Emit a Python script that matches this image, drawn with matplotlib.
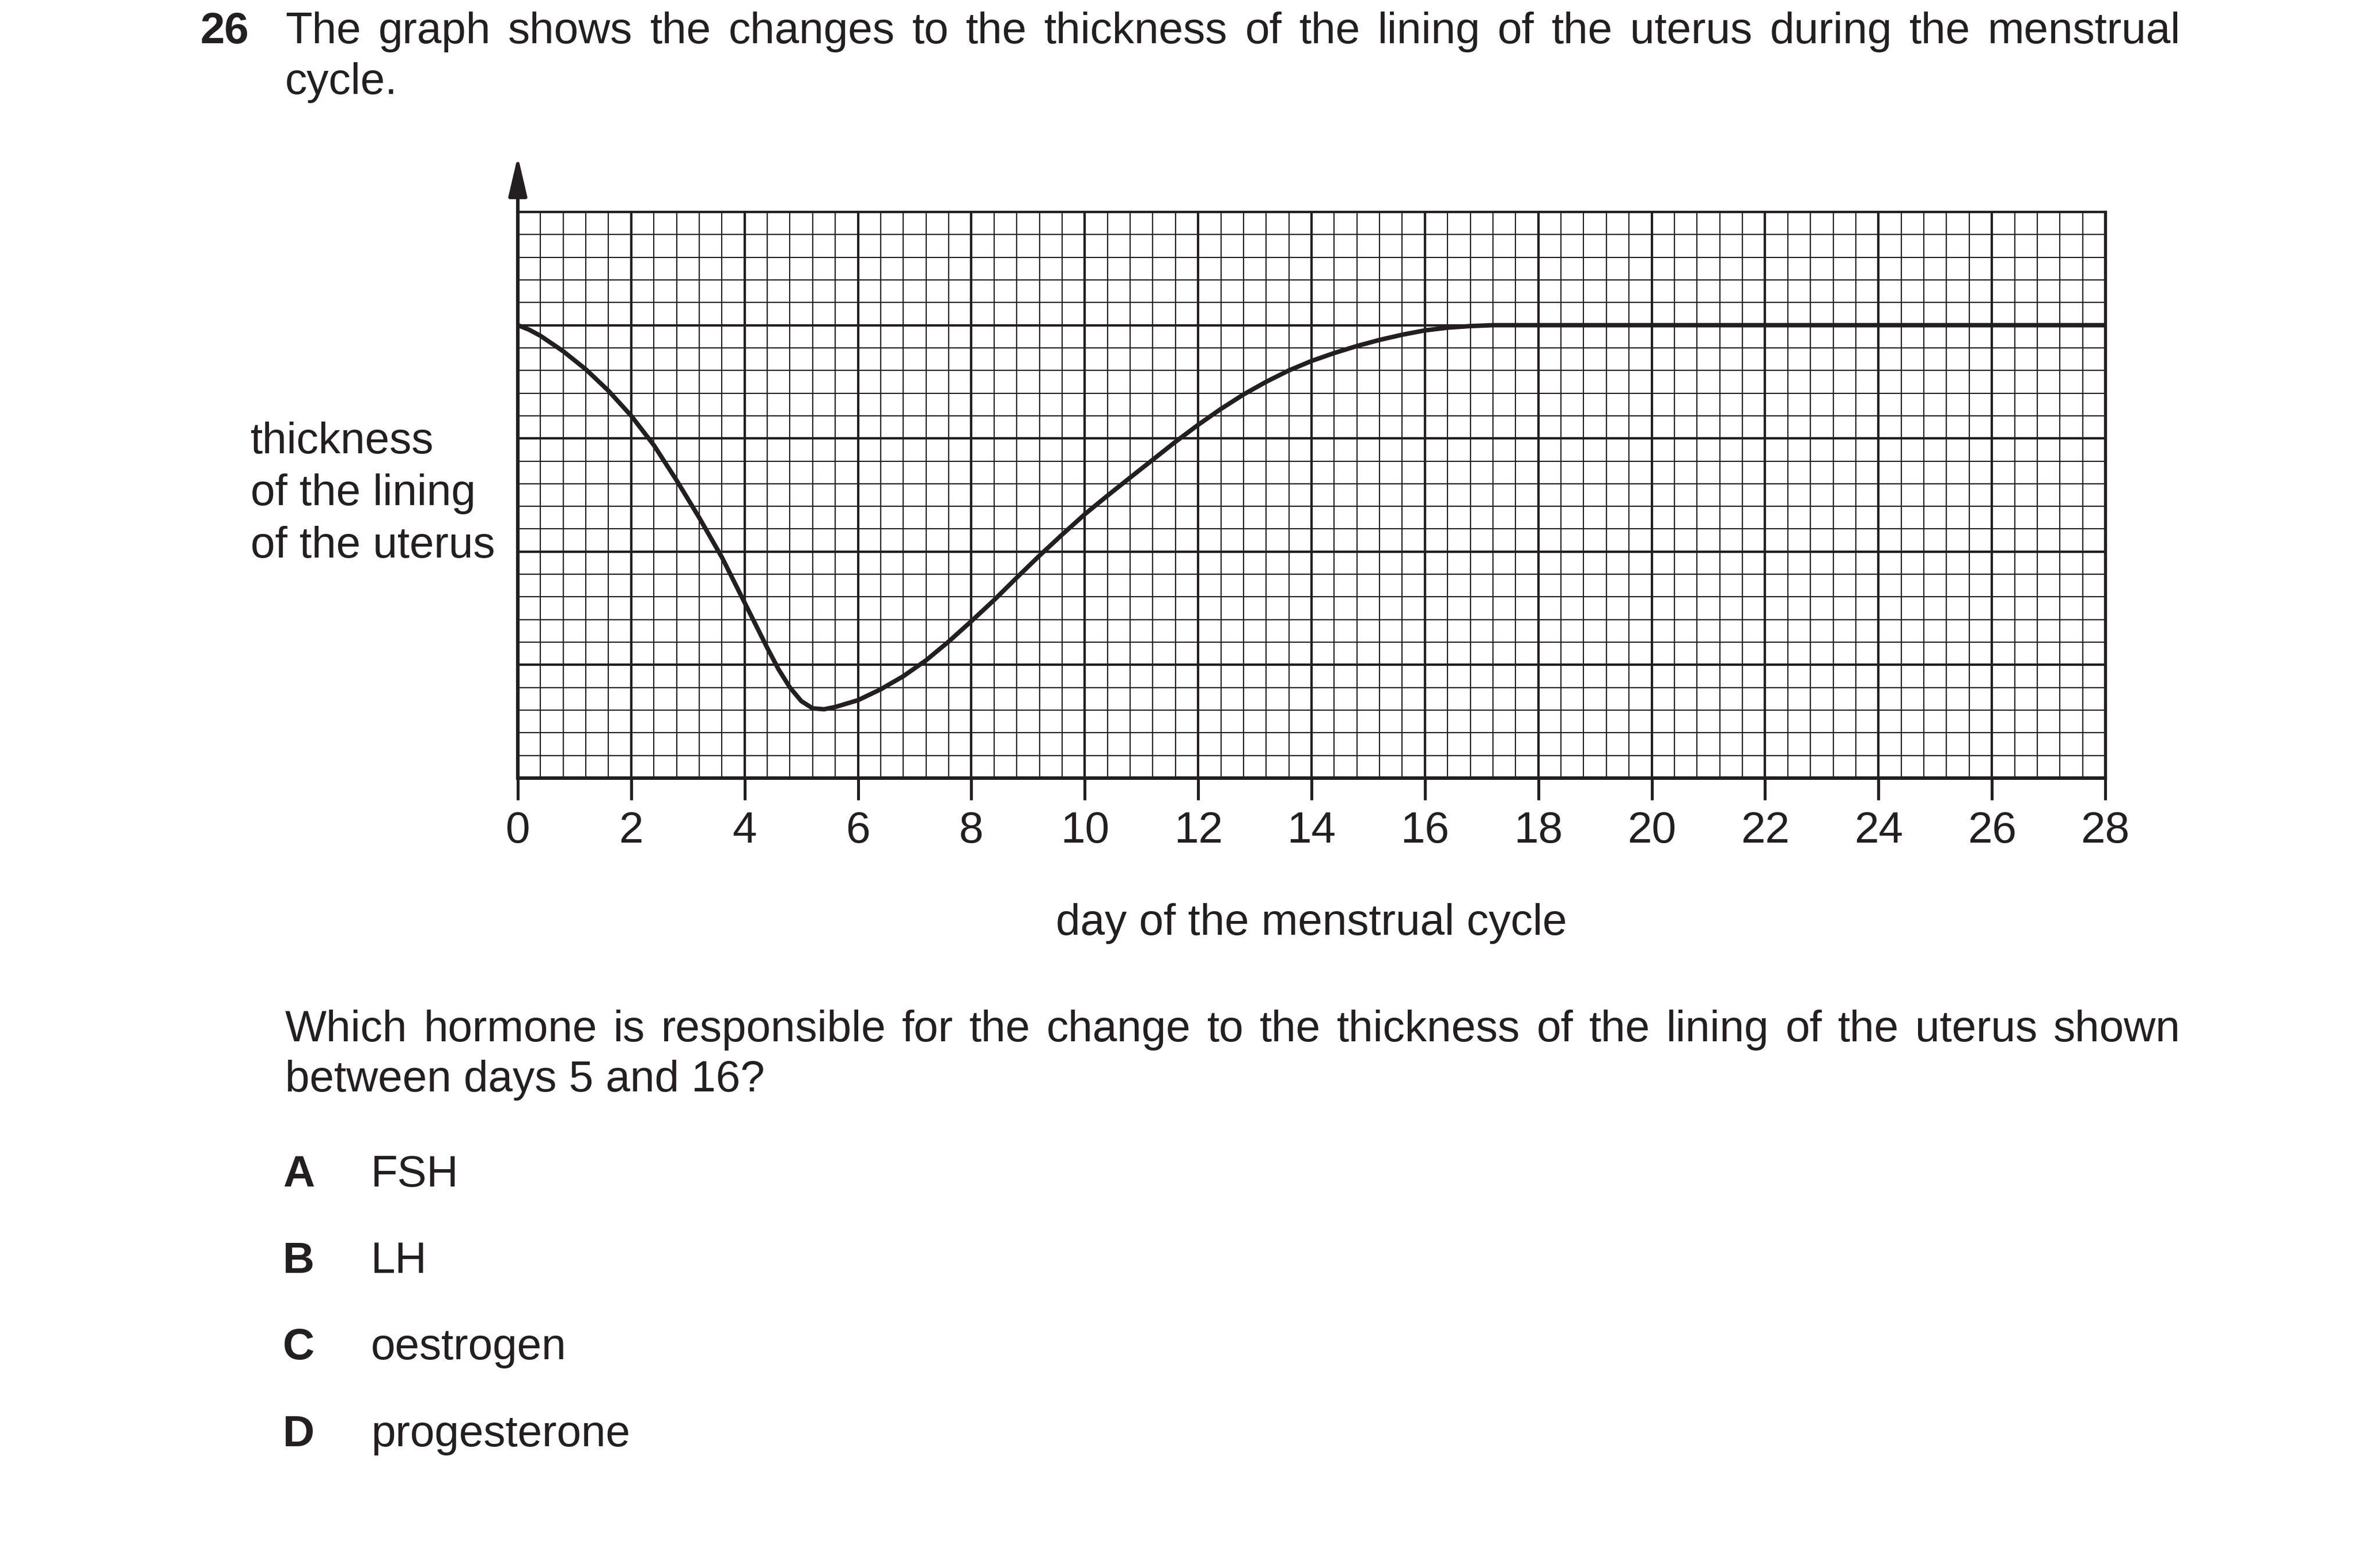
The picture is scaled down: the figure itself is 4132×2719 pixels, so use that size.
import matplotlib.pyplot as plt
import numpy as np

plt.rcParams['font.family'] = ['Liberation Sans', 'DejaVu Sans']

W, H, DPI = 4132, 2719, 200
INK = '#231f20'
FS = 27.5

# readings off the graph paper: day vs thickness (in small squares above the base)
days = [0.0, 0.2, 0.4, 0.8, 1.2, 1.6, 2.0, 2.4, 2.8, 3.2, 3.6, 4.0, 4.4,
        4.6, 4.8, 5.0, 5.2, 5.4, 5.6, 6.0, 6.4, 6.8, 7.2, 7.6, 8.0, 8.4,
        8.8, 9.2, 9.6, 10.0, 10.4, 10.8, 11.2, 11.6, 12.0, 12.4, 12.8, 13.2,
        13.6, 14.0, 14.4, 14.8, 15.2, 15.6, 16.0, 16.4, 16.8, 17.2, 28.0]
thickness = [20.0, 19.8, 19.53, 18.85, 18.05, 17.1, 16.0, 14.7, 13.15,
             11.5, 9.75, 7.75, 5.75, 4.8, 4.0, 3.4, 3.08, 3.04, 3.14, 3.44,
             3.92, 4.5, 5.2, 6.03, 6.93, 7.86, 8.85, 9.82, 10.75, 11.65,
             12.47, 13.27, 14.06, 14.85, 15.6, 16.3, 16.94, 17.5, 18.0,
             18.42, 18.77, 19.08, 19.35, 19.58, 19.77, 19.89, 19.96, 20.0,
             20.0]
tick_days = np.arange(0, 29, 2)

q_number = '26'
q_line1 = ('The graph shows the changes to the thickness of the lining of the '
           'uterus during the menstrual')
q_line2 = 'cycle.'
y_label = ['thickness', 'of the lining', 'of the uterus']
x_label = 'day of the menstrual cycle'
ask_line1 = ('Which hormone is responsible for the change to the thickness of '
             'the lining of the uterus shown')
ask_line2 = 'between days 5 and 16?'
option_letters = ['A', 'B', 'C', 'D']
option_names = ['FSH', 'LH', 'oestrogen', 'progesterone']


def fx(px):
    return px / W


def fy(py):
    return 1 - py / H


fig = plt.figure(figsize=(W / DPI, H / DPI), dpi=DPI)
fig.patch.set_facecolor('white')

# graph paper area
ax_left, ax_right, ax_top, ax_bottom = 899, 3655, 368, 1351
ax = fig.add_axes([fx(ax_left), fy(ax_bottom), (ax_right - ax_left) / W,
                   (ax_bottom - ax_top) / H])

ax.plot(days, thickness, color=INK, lw=2.8, zorder=5,
        solid_capstyle='round', solid_joinstyle='round')

ax.set_xlim(0, 28)
ax.set_ylim(0, 25)
ax.set_xticks(tick_days)
ax.set_xticklabels([str(d) for d in tick_days])
ax.set_xticks(np.linspace(0, 28, 71), minor=True)
ax.set_yticks(np.arange(0, 26, 5))
ax.set_yticks(np.arange(0, 26, 1), minor=True)
ax.set_axisbelow(True)
ax.grid(which='major', color=INK, lw=1.5)
ax.grid(which='minor', color=INK, lw=0.75)

ax.tick_params(axis='y', which='both', length=0, labelleft=False)
ax.tick_params(axis='x', which='minor', length=0)
ax.tick_params(axis='x', which='major', length=13.7, width=1.8, color=INK,
               pad=7, labelsize=FS, labelcolor=INK)

for side, lw in [('left', 2.2), ('bottom', 2.2), ('right', 1.9), ('top', 1.5)]:
    ax.spines[side].set_color(INK)
    ax.spines[side].set_linewidth(lw)

# vertical axis arrow above the grid
tip = (ax_bottom - 271) / (ax_bottom - ax_top)
ax.annotate('', xy=(0, tip), xytext=(0, 0), xycoords='axes fraction',
            textcoords='axes fraction', annotation_clip=False,
            arrowprops=dict(arrowstyle='-|>,head_length=0.6,head_width=0.14',
                            mutation_scale=35, lw=2.2, color=INK,
                            shrinkA=0, shrinkB=0))

renderer = fig.canvas.get_renderer()
X0, X1 = 495, 3786


def justified(line, base):
    words = line.split()
    arts = [fig.text(0, fy(base), w, fontsize=FS, color=INK, va='baseline')
            for w in words]
    widths = [a.get_window_extent(renderer).width for a in arts]
    gap = (X1 - X0 - sum(widths)) / (len(words) - 1)
    x = X0
    for a, w in zip(arts, widths):
        a.set_x(fx(x))
        x += w + gap


fig.text(fx(347), fy(75), q_number, fontsize=FS, fontweight='bold',
         color=INK, va='baseline')
justified(q_line1, 75)
fig.text(fx(X0), fy(163), q_line2, fontsize=FS, color=INK, va='baseline')

for line, base in zip(y_label, [787, 877, 968]):
    fig.text(fx(435), fy(base), line, fontsize=FS, color=INK, va='baseline')

fig.text(fx((ax_left + ax_right) / 2), fy(1623), x_label, fontsize=FS,
         color=INK, ha='center', va='baseline')

justified(ask_line1, 1808)
fig.text(fx(X0), fy(1895), ask_line2, fontsize=FS, color=INK, va='baseline')

for letter, name, base in zip(option_letters, option_names,
                              [2060, 2210, 2360, 2511]):
    fig.text(fx(491), fy(base), letter, fontsize=FS, fontweight='bold',
             color=INK, va='baseline')
    fig.text(fx(644), fy(base), name, fontsize=FS, color=INK, va='baseline')

fig.savefig('out.png', dpi=DPI, facecolor='white')
